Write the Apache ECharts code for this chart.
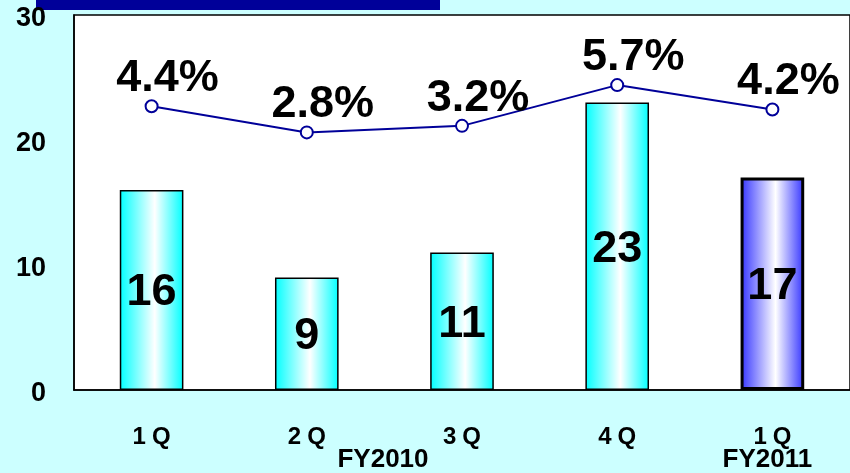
<!DOCTYPE html>
<html>
<head>
<meta charset="utf-8">
<script src="https://cdn.jsdelivr.net/npm/echarts@6/dist/echarts.min.js"></script>
<style>
  html, body { margin: 0; padding: 0; background: #ccffff; }
  #chart { width: 850px; height: 473px; }
</style>
</head>
<body>
<div id="chart"></div>
<script>
// Quarterly amounts (bars) and ratio (%) line
const quarters = ['1Q', '2Q', '3Q', '4Q', '1Q'];
const fiscalYears = ['', '', 'FY2010', '', 'FY2011'];
const amounts = [16, 9, 11, 23, 17];
const ratios = [4.4, 2.8, 3.2, 5.7, 4.2];
const leftTicks = [0, 10, 20, 30];

const bigFont = "'Liberation Sans', Arial, sans-serif";
const axisFont = "'Liberation Sans', Arial, sans-serif";

function barGradient(edge) {
  return new echarts.graphic.LinearGradient(0, 0, 1, 0, [
    { offset: 0, color: edge },
    { offset: 0.55, color: '#ffffff' },
    { offset: 1, color: edge }
  ]);
}

const quarterText = { color: '#000000', fontSize: 24, fontWeight: 'bold', fontFamily: axisFont };

const chart = echarts.init(document.getElementById('chart'));
chart.setOption({
  backgroundColor: '#ccffff',
  animation: false,
  graphic: [
    { type: 'rect', left: 36, top: 0, shape: { width: 404, height: 10 }, style: { fill: '#000099' } }
  ],
  grid: {
    left: 74, top: 15, right: -2, bottom: 79,
    show: true, backgroundColor: '#ffffff', borderColor: '#000000', borderWidth: 1.5
  },
  xAxis: [
    {
      type: 'category',
      data: quarters,
      axisLine: { lineStyle: { color: '#000000', width: 1.5 } },
      axisTick: { inside: true, length: 10, lineStyle: { color: '#000000', width: 1 } },
      axisLabel: {
        margin: 35,
        // spread the quarter number and the Q apart a little
        formatter: function (v) {
          return '{n|' + v.slice(0, -1) + '}{q|' + v.slice(-1) + '}';
        },
        rich: {
          n: Object.assign({ padding: [0, 6, 0, 0] }, quarterText),
          q: quarterText
        }
      }
    },
    {
      type: 'category',
      data: fiscalYears,
      position: 'bottom',
      axisLine: { show: false },
      axisTick: { show: false },
      axisLabel: {
        margin: 57,
        interval: 0,
        formatter: function (v, i) {
          if (!v) return '';
          return i === 2 ? '{shift|' + v + '}' : '{fy|' + v + '}';
        },
        rich: {
          shift: { color: '#000000', fontSize: 26, fontWeight: 'bold', fontFamily: axisFont, padding: [0, 158, 0, 0] },
          fy: { color: '#000000', fontSize: 26, fontWeight: 'bold', fontFamily: axisFont, padding: [0, 10, 0, 0] }
        }
      }
    }
  ],
  yAxis: [
    {
      type: 'value',
      min: leftTicks[0],
      max: leftTicks[leftTicks.length - 1],
      interval: 10,
      axisLine: { show: true, lineStyle: { color: '#000000', width: 1.5 } },
      axisTick: { show: false },
      splitLine: { show: false },
      axisLabel: {
        margin: 28,
        formatter: '{v|{value}}',
        rich: {
          v: { color: '#000000', fontSize: 27, fontWeight: 'bold', fontFamily: axisFont, padding: [8, 0, 0, 0] }
        }
      }
    },
    {
      type: 'value',
      min: -13,
      max: 10,
      show: false,
      splitLine: { show: false }
    }
  ],
  series: [
    {
      type: 'bar',
      barWidth: '41%',
      data: amounts.map(function (v, i) {
        const last = i === amounts.length - 1;
        return {
          value: v,
          itemStyle: {
            color: barGradient(last ? '#3333ff' : '#00ffff'),
            borderColor: '#000000',
            borderWidth: last ? 3 : 1.5
          }
        };
      }),
      label: {
        show: true,
        position: 'inside',
        offset: [0, 3],
        color: '#000000',
        fontSize: 45,
        fontWeight: 'bold',
        fontFamily: bigFont
      }
    },
    {
      type: 'line',
      yAxisIndex: 1,
      data: ratios,
      symbol: 'circle',
      symbolSize: 12,
      lineStyle: { color: '#000099', width: 2 },
      itemStyle: { color: '#ffffff', borderColor: '#000099', borderWidth: 2 },
      label: {
        show: true,
        position: 'top',
        distance: 0,
        offset: [16, 2],
        formatter: '{c}%',
        color: '#000000',
        fontSize: 45,
        fontWeight: 'bold',
        fontFamily: bigFont
      },
      z: 5
    }
  ]
});
</script>
</body>
</html>
